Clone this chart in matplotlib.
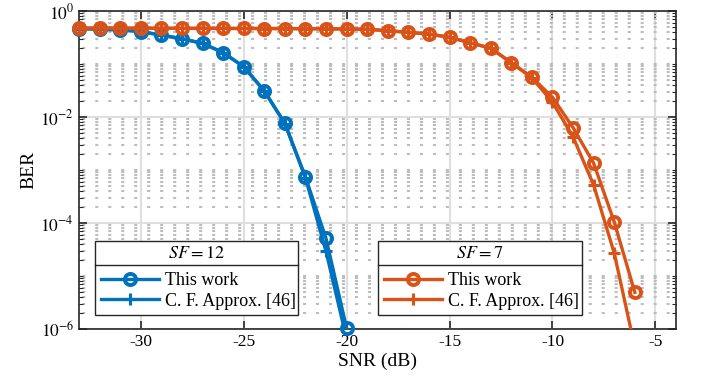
import numpy as np
import matplotlib
matplotlib.use("Agg")
import matplotlib.pyplot as plt
from matplotlib.ticker import LogLocator, NullFormatter, NullLocator
from matplotlib.patches import Rectangle
from matplotlib.lines import Line2D

plt.rcParams['font.family'] = ['Liberation Serif', 'DejaVu Serif']
plt.rcParams['mathtext.fontset'] = 'stix'
plt.rcParams['axes.unicode_minus'] = False
plt.rcParams['lines.scale_dashes'] = False

# ---- data ----
snr_sf12 = [-33, -32, -31, -30, -29, -28, -27, -26, -25, -24, -23, -22, -21, -20]
ber_sf12_work = [0.465, 0.455, 0.44, 0.41, 0.35, 0.30, 0.245, 0.164, 0.089, 0.031, 0.0076, 7.4e-4, 5.1e-5, 1.03e-6]
ber_sf12_cf = [0.465, 0.455, 0.44, 0.41, 0.35, 0.30, 0.245, 0.164, 0.089, 0.031, 0.0075, 7.1e-4, 2.9e-5, 6.5e-7]

snr_sf7 = [-33, -32, -31, -30, -29, -28, -27, -26, -25, -24, -23, -22, -21, -20,
           -19, -18, -17, -16, -15, -14, -13, -12, -11, -10, -9, -8, -7, -6]
ber_sf7_work = [0.475, 0.475, 0.474, 0.473, 0.472, 0.471, 0.470, 0.469, 0.468, 0.467, 0.466, 0.464, 0.461, 0.457,
                0.452, 0.425, 0.396, 0.368, 0.319, 0.252, 0.198, 0.106, 0.056, 0.0235, 0.0063, 1.34e-3, 1.05e-4, 4.9e-6]
ber_sf7_cf = [0.475, 0.475, 0.474, 0.473, 0.472, 0.471, 0.470, 0.469, 0.468, 0.467, 0.466, 0.464, 0.461, 0.457,
              0.452, 0.425, 0.396, 0.368, 0.319, 0.252, 0.198, 0.106, 0.055, 0.019, 4.2e-3, 5.2e-4, 2.7e-5, 4.5e-7]

xticks = [-30, -25, -20, -15, -10, -5]
xtick_labels = ['-30', '-25', '-20', '-15', '-10', '-5']
yticks = [1e-6, 1e-4, 1e-2, 1e0]
ytick_labels = [r'$10^{-6}$', r'$10^{-4}$', r'$10^{-2}$', r'$10^{0}$']
legend_labels = ['This work', 'C. F. Approx. [46]']
legend_titles = [r'$SF = 12$', r'$SF = 7$']

blue = '#0072BD'
orange = '#D95319'

W, H = 701, 390
fig = plt.figure(figsize=(W / 100, H / 100), dpi=100)
ax = fig.add_axes([79 / W, 1 - 329 / H, (676 - 79) / W, (329 - 11) / H])

YMIN, YMAX = 1e-6, 1

lw = 2.4


def series(x, y, color, marker, z):
    x = np.asarray(x, float)
    y = np.asarray(y, float)
    ax.semilogy(x, y, '-', color=color, lw=lw, zorder=z)
    keep = (y >= YMIN * 0.98) & (y <= YMAX)
    if marker == 'o':
        kw = dict(marker='o', ms=8.0, mew=2.8, mfc='none')
    else:
        kw = dict(marker='+', ms=9, mew=2.2)
    ax.semilogy(x[keep], y[keep], ls='none', color=color, clip_on=False, zorder=z, **kw)
    return Line2D([], [], color=color, lw=lw, **kw)


h1 = series(snr_sf12, ber_sf12_work, blue, 'o', 3)
h2 = series(snr_sf12, ber_sf12_cf, blue, '+', 3)
h3 = series(snr_sf7, ber_sf7_work, orange, 'o', 4)
h4 = series(snr_sf7, ber_sf7_cf, orange, '+', 4)

ax.set_xlim(-33, -4)
ax.set_ylim(YMIN, YMAX)
ax.set_xticks(xticks)
ax.set_xticklabels(xtick_labels)
ax.xaxis.set_minor_locator(NullLocator())
ax.set_yticks(yticks)
ax.set_yticklabels(ytick_labels)
ax.yaxis.set_minor_locator(LogLocator(base=10, subs=np.arange(1, 10), numticks=20))
ax.yaxis.set_minor_formatter(NullFormatter())

ax.tick_params(which='both', direction='in', top=True, right=True, labelsize=12.5, colors='#262626',
               labelcolor='black')
ax.tick_params(which='major', length=6, width=1.2)
ax.tick_params(which='minor', length=3, width=0.8)

ax.grid(True, which='major', color='#dfdfdf', lw=1.5, ls='-')
ax.grid(True, which='minor', axis='y', color='#bdbdbd', lw=1.5, ls=(7, (2.2, 7.15)))
ax.grid(False, which='minor', axis='x')
ax.set_axisbelow(True)
for s in ax.spines.values():
    s.set_color('#262626')
    s.set_linewidth(1.2)
    s.set_zorder(2.5)

ax.set_xlabel('SNR (dB)', fontsize=14, labelpad=2)
ax.set_ylabel('BER', fontsize=14, labelpad=2)


def fx(px):
    return px / W


def fy(py):
    return 1 - py / H


def make_leg(handles, title, x0, x1):
    y0, ymid, y1 = 241, 265, 315
    fig.add_artist(Rectangle((fx(x0), fy(y1)), fx(x1) - fx(x0), fy(y0) - fy(y1),
                             transform=fig.transFigure, facecolor='white', edgecolor='#262626',
                             lw=1.0, zorder=10))
    fig.add_artist(Line2D([fx(x0), fx(x1)], [fy(ymid), fy(ymid)], transform=fig.transFigure,
                          color='#262626', lw=1.0, zorder=11))
    fig.text(fx((x0 + x1) / 2), fy((y0 + ymid) / 2 + 1), title, ha='center', va='center',
             fontsize=13, zorder=12)
    leg = fig.legend(handles, legend_labels, loc='center left',
                     bbox_to_anchor=(fx(x0 + 6), fy((ymid + y1) / 2 + 1)),
                     bbox_transform=fig.transFigure, fontsize=13, frameon=False,
                     handlelength=3.2, handletextpad=0.35, borderaxespad=0, borderpad=0,
                     labelspacing=0.2)
    leg.set_zorder(12)
    return leg


make_leg([h1, h2], legend_titles[0], 95, 298)
make_leg([h3, h4], legend_titles[1], 378, 582)

fig.savefig('out.png', dpi=100)
